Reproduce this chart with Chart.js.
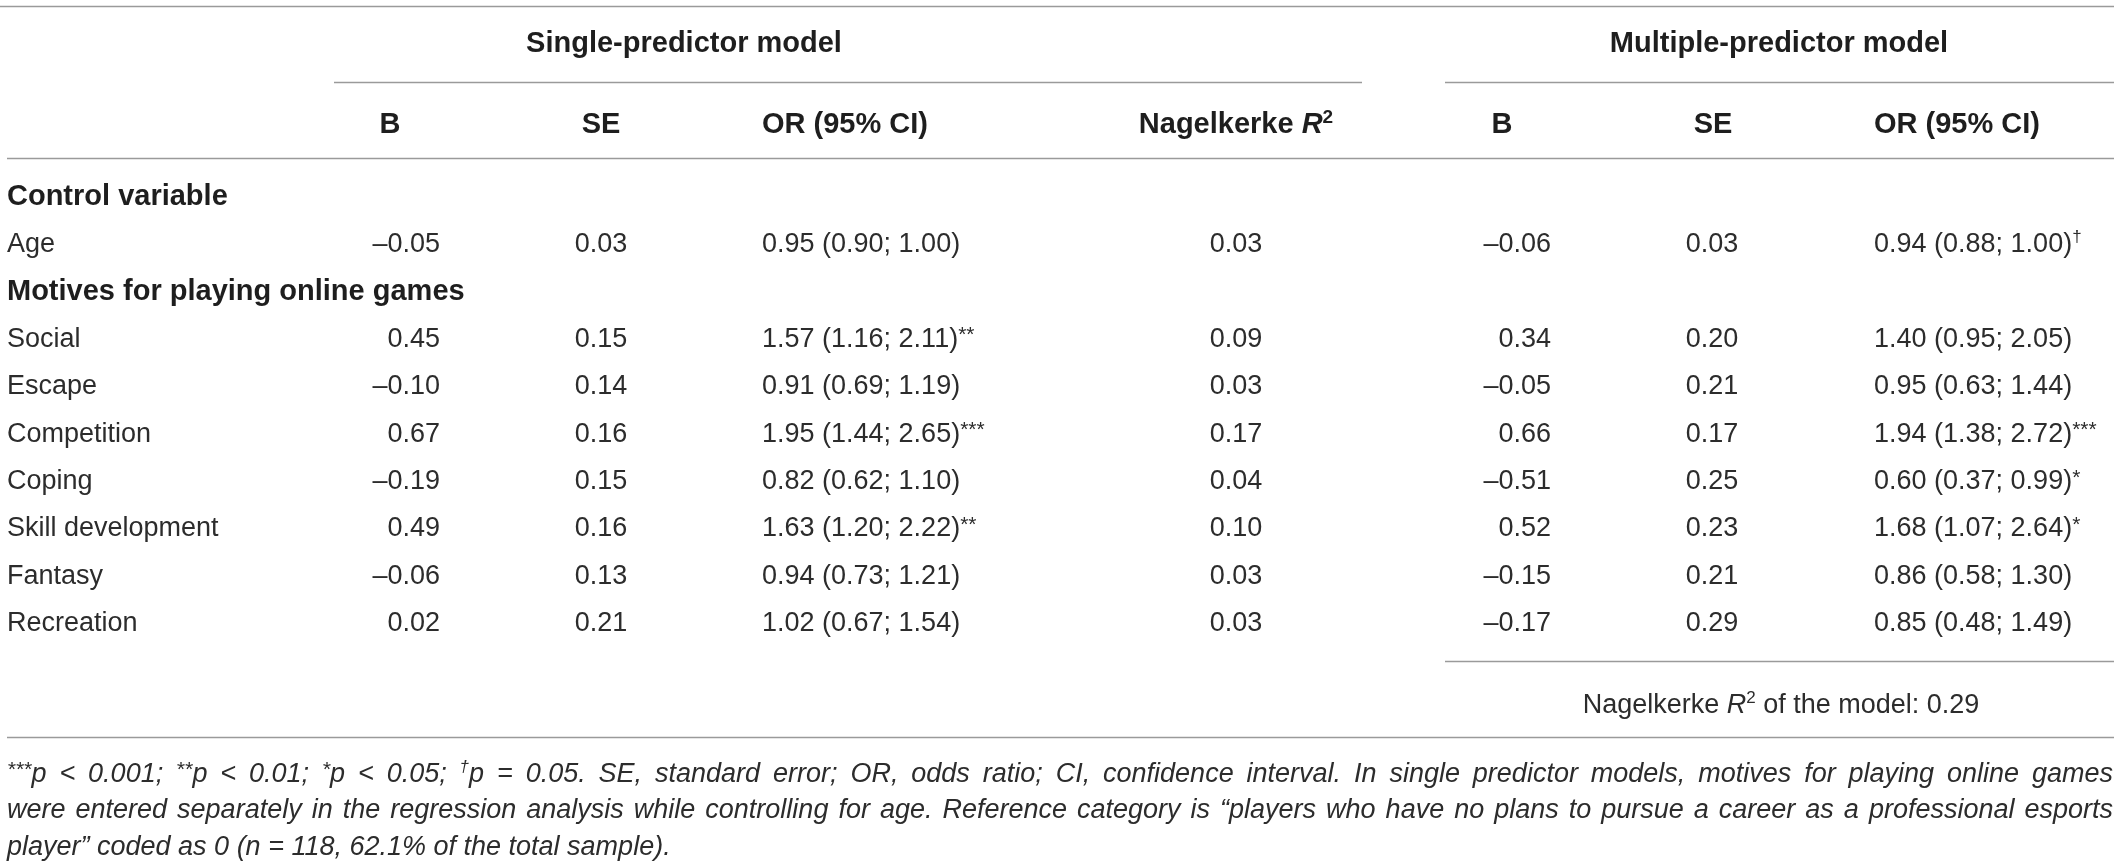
<!DOCTYPE html>
<html>
<head>
<meta charset="utf-8">
<script src="https://cdn.jsdelivr.net/npm/chart.js@4.4.1/dist/chart.umd.min.js"></script>
<style>
html,body{margin:0;padding:0;background:#ffffff;}
#wrap{width:2119px;height:866px;position:relative;}
</style>
</head>
<body>
<div id="wrap"><canvas id="c"></canvas></div>
<script>
// ---------------- DATA ----------------
const rowLabels = ['Control variable','Age','Motives for playing online games','Social','Escape','Competition','Coping','Skill development','Fantasy','Recreation'];
const headingRows = ['Control variable','Motives for playing online games'];
const groupHeaders = ['Single-predictor model','Multiple-predictor model'];
const columnHeaders = ['B','SE','OR (95% CI)','Nagelkerke R2','B','SE','OR (95% CI)'];

const singleB   = [null,-0.05,null, 0.45,-0.10, 0.67,-0.19, 0.49,-0.06, 0.02];
const singleSE  = [null, 0.03,null, 0.15, 0.14, 0.16, 0.15, 0.16, 0.13, 0.21];
const singleOR  = [null, 0.95,null, 1.57, 0.91, 1.95, 0.82, 1.63, 0.94, 1.02];
const singleLo  = [null, 0.90,null, 1.16, 0.69, 1.44, 0.62, 1.20, 0.73, 0.67];
const singleHi  = [null, 1.00,null, 2.11, 1.19, 2.65, 1.10, 2.22, 1.21, 1.54];
const singleSig = ['',   '',  '',   '**', '',  '***', '',  '**', '',   ''];
const singleR2  = [null, 0.03,null, 0.09, 0.03, 0.17, 0.04, 0.10, 0.03, 0.03];

const multiB    = [null,-0.06,null, 0.34,-0.05, 0.66,-0.51, 0.52,-0.15,-0.17];
const multiSE   = [null, 0.03,null, 0.20, 0.21, 0.17, 0.25, 0.23, 0.21, 0.29];
const multiOR   = [null, 0.94,null, 1.40, 0.95, 1.94, 0.60, 1.68, 0.86, 0.85];
const multiLo   = [null, 0.88,null, 0.95, 0.63, 1.38, 0.37, 1.07, 0.58, 0.48];
const multiHi   = [null, 1.00,null, 2.05, 1.44, 2.72, 0.99, 2.64, 1.30, 1.49];
const multiSig  = ['',   '†', '',   '',   '',  '***', '*', '*',  '',   ''];
const modelR2   = 0.29;

const footnoteLines = [
  [['sup','***'],['it','p < 0.001; '],['sup','**'],['it','p < 0.01; '],['sup','*'],['it','p < 0.05; '],['sup','†'],['it','p = 0.05. SE, standard error; OR, odds ratio; CI, confidence interval. In single predictor models, motives for playing online games']],
  [['it','were entered separately in the regression analysis while controlling for age. Reference category is “players who have no plans to pursue a career as a professional esports']],
  [['it','player” coded as 0 ('],['it','n'],['it',' = 118, 62.1% of the total sample).']]
];

// ---------------- LAYOUT / STYLE ----------------
const W = 2119, H = 866;
const FAM = '"Liberation Sans", Arial, Helvetica, sans-serif';
const BODY = 27, BOLD = 29, NOTE = 27;
const TXT = '#2c2c2c', HEAD = '#1e1e1e', RULE = '#9a9a9a';
const L = {
  labelX: 7,
  colAnchors: [440, 601, 762, 1236, 1551, 1712, 1874],
  colAligns:  ['right','center','left','center','right','center','left'],
  headAnchors:[390, 601, 762, 1236, 1502, 1713, 1874],
  headAligns: ['center','center','left','center','center','center','left'],
  groupX: [684, 1779],
  groupY: 42, headY: 123,
  rules: [
    {y:6,   x0:0,    x1:2114},
    {y:82,  x0:334,  x1:1362},
    {y:82,  x0:1445, x1:2114},
    {y:158, x0:7,    x1:2114},
    {y:661, x0:1445, x1:2114},
    {y:737, x0:7,    x1:2114}
  ],
  modelR2X: 1781, modelR2Y: 703,
  noteX0: 7, noteX1: 2113, noteY: [772, 808, 845],
  rowTop: 171.3, rowBottom: 645.3
};

function fmt(v){ return (v < 0 ? '–' : '') + Math.abs(v).toFixed(2); }
function fnt(style, weight, size){ return `${style} ${weight} ${size}px ${FAM}`; }
function supRun(t, base, weight, style){
  const isStar = /^\*+$/.test(t);
  return {t, style: style||'normal', weight: weight||'normal', size: Math.round(base*(isStar?0.76:0.64)), rise: base*(isStar?0.2:0.37)};
}
function run(t, size, weight, style){ return {t, style: style||'normal', weight: weight||'normal', size, rise:0}; }

function measureRuns(ctx, runs){
  let w = 0;
  runs.forEach(r => { ctx.font = fnt(r.style, r.weight, r.size); r.w = ctx.measureText(r.t).width; w += r.w; });
  return w;
}
function drawRuns(ctx, runs, x, yMid, align, mainSize, color){
  const w = measureRuns(ctx, runs);
  let sx = align === 'left' ? x : (align === 'right' ? x - w : x - w/2);
  const base = yMid + 0.358*mainSize;
  ctx.fillStyle = color;
  ctx.textBaseline = 'alphabetic';
  ctx.textAlign = 'left';
  runs.forEach(r => {
    ctx.font = fnt(r.style, r.weight, r.size);
    ctx.fillText(r.t, sx, base - r.rise);
    sx += r.w;
  });
}

function drawJustified(ctx, spec, x0, x1, yMid, size, justify, color){
  let s = size;
  for (let iter = 0; iter < 6; iter++) {
    const tokens = [];
    spec.forEach(([kind, text]) => {
      if (kind === 'sup') { tokens.push(Object.assign(supRun(text, s, 'normal', 'italic'), {space:false})); return; }
      text.split(/( )/).forEach(p => { if (p === '') return; tokens.push({t:p, style:'italic', weight:'normal', size:s, rise:0, space: p === ' '}); });
    });
    const total = measureRuns(ctx, tokens);
    const avail = x1 - x0;
    const nSp = tokens.filter(t => t.space).length;
    if (justify && total > avail && iter < 5) { s = s * avail / total - 0.01; continue; }
    const extra = justify && nSp ? (avail - total)/nSp : 0;
    const base = yMid + 0.358*s;
    let x = x0;
    ctx.fillStyle = color; ctx.textBaseline = 'alphabetic'; ctx.textAlign = 'left';
    tokens.forEach(t => {
      ctx.font = fnt(t.style, t.weight, t.size);
      if (!t.space) ctx.fillText(t.t, x, base - t.rise);
      x += t.w + (t.space ? extra : 0);
    });
    return;
  }
}

// ---------------- CELLS -> DATASETS ----------------
function orRuns(o, lo, hi, sig){
  const r = [run(`${fmt(o)} (${fmt(lo)}; ${fmt(hi)})`, BODY)];
  if (sig) r.push(supRun(sig, BODY));
  return r;
}
function column(anchor, align, cellFn){
  const data = [], cells = [];
  rowLabels.forEach((lab, i) => {
    const c = cellFn(i);
    if (c) { data.push({x: anchor, y: lab}); cells.push(c); }
  });
  return {data, cells, align, pointRadius:0, pointHoverRadius:0, showLine:false};
}
const datasets = [
  column(L.labelX, 'left', i => headingRows.includes(rowLabels[i])
      ? [run(rowLabels[i], BOLD, 'bold')] : [run(rowLabels[i], BODY)]),
  column(L.colAnchors[0], L.colAligns[0], i => singleB[i] == null ? null : [run(fmt(singleB[i]), BODY)]),
  column(L.colAnchors[1], L.colAligns[1], i => singleSE[i] == null ? null : [run(fmt(singleSE[i]), BODY)]),
  column(L.colAnchors[2], L.colAligns[2], i => singleOR[i] == null ? null : orRuns(singleOR[i], singleLo[i], singleHi[i], singleSig[i])),
  column(L.colAnchors[3], L.colAligns[3], i => singleR2[i] == null ? null : [run(fmt(singleR2[i]), BODY)]),
  column(L.colAnchors[4], L.colAligns[4], i => multiB[i] == null ? null : [run(fmt(multiB[i]), BODY)]),
  column(L.colAnchors[5], L.colAligns[5], i => multiSE[i] == null ? null : [run(fmt(multiSE[i]), BODY)]),
  column(L.colAnchors[6], L.colAligns[6], i => multiOR[i] == null ? null : orRuns(multiOR[i], multiLo[i], multiHi[i], multiSig[i]))
];

function headerRuns(label){
  if (label === 'Nagelkerke R2') return [run('Nagelkerke ', BOLD, 'bold'), run('R', BOLD, 'bold', 'italic'), supRun('2', BOLD, 'bold')];
  return [run(label, BOLD, 'bold')];
}

const tablePlugin = {
  id: 'tableText',
  afterDatasetsDraw(chart){
    const ctx = chart.ctx;
    const xs = chart.scales.x;
    ctx.save();
    // rules
    ctx.strokeStyle = RULE; ctx.lineWidth = 1.3;
    L.rules.forEach(r => {
      ctx.beginPath();
      ctx.moveTo(xs.getPixelForValue(r.x0), r.y + 0.5);
      ctx.lineTo(xs.getPixelForValue(r.x1), r.y + 0.5);
      ctx.stroke();
    });
    // group headers
    groupHeaders.forEach((g, i) => drawRuns(ctx, [run(g, BOLD, 'bold')], xs.getPixelForValue(L.groupX[i]), L.groupY, 'center', BOLD, HEAD));
    // column headers
    columnHeaders.forEach((h, i) => drawRuns(ctx, headerRuns(h), xs.getPixelForValue(L.headAnchors[i]), L.headY, L.headAligns[i], BOLD, HEAD));
    // cells placed by the scales
    chart.data.datasets.forEach((ds, di) => {
      const meta = chart.getDatasetMeta(di);
      meta.data.forEach((el, j) => {
        const runs = ds.cells[j];
        const bold = runs[0].weight === 'bold';
        drawRuns(ctx, runs, el.x, el.y, ds.align, runs[0].size, bold ? HEAD : TXT);
      });
    });
    // model R2
    drawRuns(ctx, [run('Nagelkerke ', BODY), run('R', BODY, 'normal', 'italic'), supRun('2', BODY), run(' of the model: ' + fmt(modelR2), BODY)],
      xs.getPixelForValue(L.modelR2X), L.modelR2Y, 'center', BODY, TXT);
    // footnote
    footnoteLines.forEach((spec, i) => drawJustified(ctx, spec, L.noteX0, L.noteX1, L.noteY[i], NOTE, i < footnoteLines.length - 1, TXT));
    ctx.restore();
  }
};

new Chart(document.getElementById('c'), {
  type: 'scatter',
  data: { datasets },
  options: {
    responsive: true,
    maintainAspectRatio: false,
    animation: false,
    events: [],
    layout: { padding: { top: L.rowTop, bottom: H - L.rowBottom, left: 0, right: 0 } },
    plugins: { legend: { display: false }, tooltip: { enabled: false } },
    scales: {
      x: { type: 'linear', min: 0, max: W, display: false },
      y: { type: 'category', labels: rowLabels, offset: true, display: false }
    }
  },
  plugins: [tablePlugin]
});
</script>
</body>
</html>
